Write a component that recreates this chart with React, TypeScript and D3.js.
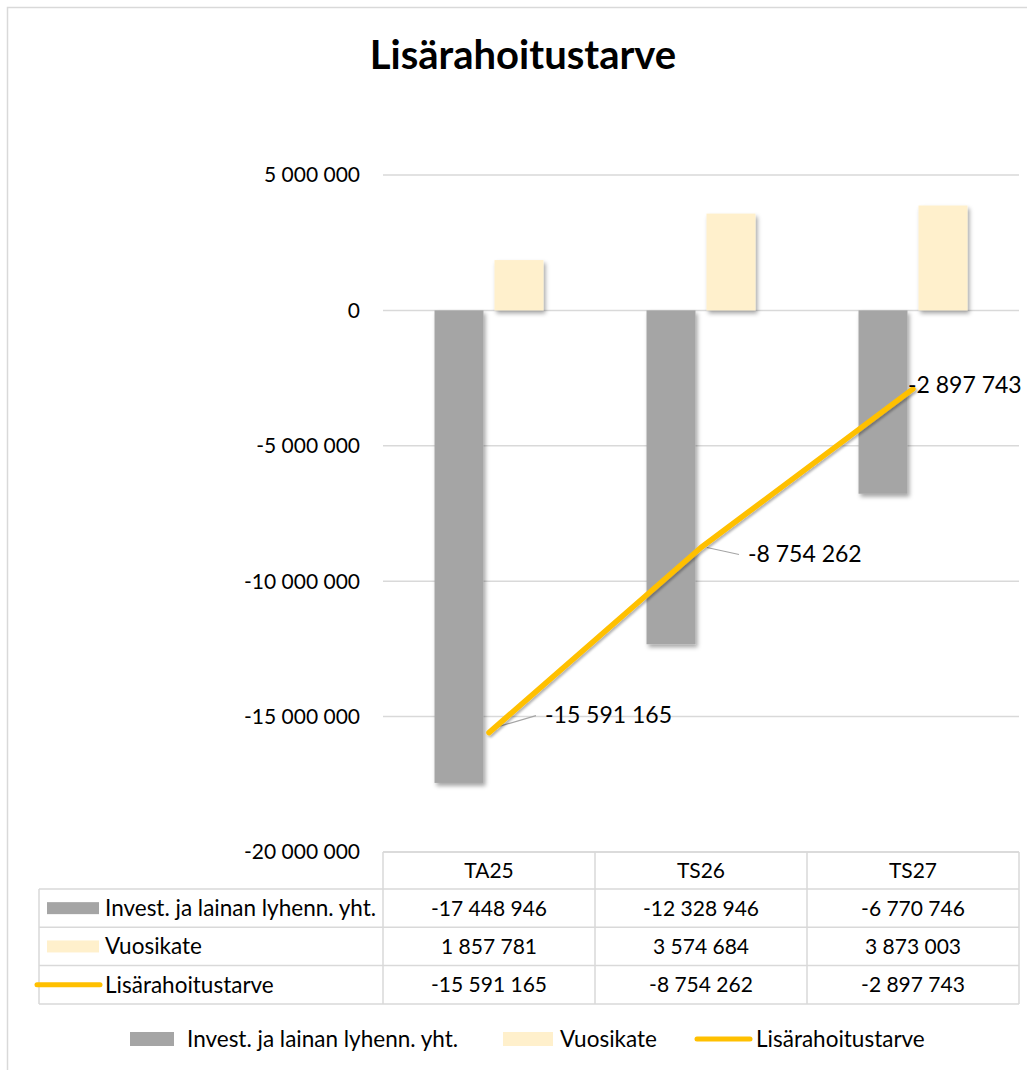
import React, { useEffect, useRef } from 'react';
import * as d3 from 'd3';

const categories = ['TA25', 'TS26', 'TS27'];
const investValues = [-17448946, -12328946, -6770746];
const vuosikateValues = [1857781, 3574684, 3873003];
const lisaValues = [-15591165, -8754262, -2897743];
const seriesNames = ['Invest. ja lainan lyhenn. yht.', 'Vuosikate', 'Lisärahoitustarve'];
const yTicks = [5000000, 0, -5000000, -10000000, -15000000, -20000000];

const W = 1027;
const H = 1070;
const FONT = 'Lato, "Open Sans", sans-serif';
const GRID = '#D9D9D9';
const GRAY = '#A5A5A5';
const CREAM = '#FFF0CC';
const GOLD = '#FFC000';

// where each data label sits relative to its point
const labelOffsets = [[56, -18], [47, 6], [-5, -4]];

const fi = d3.formatLocale({ decimal: ',', thousands: ' ', grouping: [3], currency: ['', ''], minus: '-' });
const fmt = fi.format(',d');

function App() {
  const ref = useRef<SVGSVGElement>(null);

  useEffect(() => {
    const svg = d3.select(ref.current);
    svg.selectAll('*').remove();

    const defs = svg.append('defs');
    const f = defs.append('filter').attr('id', 'shadow').attr('x', '-30%').attr('y', '-10%').attr('width', '160%').attr('height', '130%');
    f.append('feDropShadow').attr('dx', 2).attr('dy', 3).attr('stdDeviation', 2).attr('flood-color', '#000').attr('flood-opacity', 0.35);
    const fl = defs.append('filter').attr('id', 'lineshadow').attr('x', '-10%').attr('y', '-10%').attr('width', '120%').attr('height', '120%');
    fl.append('feDropShadow').attr('dx', 1.5).attr('dy', 2).attr('stdDeviation', 1.2).attr('flood-color', '#000').attr('flood-opacity', 0.3);

    svg.append('rect').attr('x', 7.5).attr('y', 7.5).attr('width', 1100).attr('height', 1100)
      .attr('fill', '#fff').attr('stroke', GRID).attr('stroke-width', 1.5);

    svg.append('text').attr('x', 523).attr('y', 55).attr('text-anchor', 'middle').attr('dy', '0.35em')
      .attr('font-family', FONT).attr('font-weight', 'bold').attr('font-size', 40).attr('fill', '#000')
      .text('Lisärahoitustarve');

    const x0 = d3.scaleBand().domain(categories).range([383, 1019]).paddingInner(0.486).paddingOuter(0.243);
    const x1 = d3.scaleBand().domain(['invest', 'vuosikate']).range([0, x0.bandwidth()]).paddingInner(0.183);
    const y = d3.scaleLinear().domain([-20000000, 5000000]).range([852, 175]);

    // gridlines + labels
    svg.append('g').selectAll('line').data(yTicks).enter().append('line')
      .attr('x1', 383).attr('x2', 1019).attr('y1', d => y(d)).attr('y2', d => y(d))
      .attr('stroke', GRID).attr('stroke-width', 1.5);
    svg.append('g').selectAll('text').data(yTicks).enter().append('text')
      .attr('x', 360).attr('y', d => y(d)).attr('dy', '0.35em').attr('text-anchor', 'end')
      .attr('font-family', FONT).attr('font-size', 21).attr('fill', '#000')
      .text(d => fmt(d));

    const bars = [
      ...categories.map((c, i) => ({ c, key: 'invest', v: investValues[i], color: GRAY })),
      ...categories.map((c, i) => ({ c, key: 'vuosikate', v: vuosikateValues[i], color: CREAM })),
    ];
    svg.append('g').selectAll('rect').data(bars).enter().append('rect')
      .attr('x', d => x0(d.c)! + x1(d.key)!)
      .attr('y', d => y(Math.max(0, d.v)))
      .attr('width', x1.bandwidth())
      .attr('height', d => Math.abs(y(d.v) - y(0)))
      .attr('fill', d => d.color)
      .attr('filter', 'url(#shadow)');

    const pts = categories.map((c, i) => [x0(c)! + x0.bandwidth() / 2, y(lisaValues[i])] as [number, number]);

    // leader lines
    svg.append('g').selectAll('line').data(pts.slice(0, 2)).enter().append('line')
      .attr('x1', d => d[0] + 6).attr('y1', (d, i) => d[1] + (i === 0 ? -5 : 0))
      .attr('x2', (d, i) => d[0] + labelOffsets[i][0] - 9).attr('y2', (d, i) => d[1] + labelOffsets[i][1] + 1)
      .attr('stroke', GRAY).attr('stroke-width', 1.2);

    svg.append('path').datum(pts)
      .attr('d', d3.line())
      .attr('fill', 'none').attr('stroke', GOLD).attr('stroke-width', 5.5)
      .attr('stroke-linecap', 'round').attr('stroke-linejoin', 'round')
      .attr('filter', 'url(#lineshadow)');

    svg.append('g').selectAll('text').data(pts).enter().append('text')
      .attr('x', (d, i) => d[0] + labelOffsets[i][0]).attr('y', (d, i) => d[1] + labelOffsets[i][1])
      .attr('dy', '0.35em').attr('font-family', FONT).attr('font-size', 23).attr('fill', '#000')
      .text((d, i) => fmt(lisaValues[i]));

    // data table
    const tTop = 852;
    const headH = 37;
    const rowH = 38.3;
    const left = 39;
    const right = 1019;
    const colEdges = categories.map(c => x0(c)! - x0.step() * x0.paddingInner() / 2);
    const tg = svg.append('g');
    tg.append('line').attr('x1', 383).attr('x2', right).attr('y1', tTop).attr('y2', tTop).attr('stroke', GRID).attr('stroke-width', 1.5);
    [0, 1, 2, 3].forEach(r => {
      const yy = tTop + headH + r * rowH;
      tg.append('line').attr('x1', left).attr('x2', right).attr('y1', yy).attr('y2', yy).attr('stroke', GRID).attr('stroke-width', 1.5);
    });
    const bottom = tTop + headH + 3 * rowH;
    tg.append('line').attr('x1', left).attr('x2', left).attr('y1', tTop + headH).attr('y2', bottom).attr('stroke', GRID).attr('stroke-width', 1.5);
    [...colEdges, right].forEach(xx => {
      tg.append('line').attr('x1', xx).attr('x2', xx).attr('y1', tTop).attr('y2', bottom).attr('stroke', GRID).attr('stroke-width', 1.5);
    });
    tg.selectAll('text.head').data(categories).enter().append('text')
      .attr('x', c => x0(c)! + x0.bandwidth() / 2).attr('y', tTop + headH / 2).attr('dy', '0.35em')
      .attr('text-anchor', 'middle').attr('font-family', FONT).attr('font-size', 21).text(c => c);
    const rows = [investValues, vuosikateValues, lisaValues];
    rows.forEach((vals, r) => {
      const cy = tTop + headH + r * rowH + rowH / 2;
      tg.selectAll(`text.r${r}`).data(categories).enter().append('text')
        .attr('x', c => x0(c)! + x0.bandwidth() / 2).attr('y', cy).attr('dy', '0.35em')
        .attr('text-anchor', 'middle').attr('font-family', FONT).attr('font-size', 21)
        .text((c, i) => fmt(vals[i]));
      if (r < 2) {
        tg.append('rect').attr('x', 47).attr('y', cy - 6).attr('width', 52).attr('height', 12).attr('fill', r === 0 ? GRAY : CREAM);
      } else {
        tg.append('line').attr('x1', 37).attr('x2', 100).attr('y1', cy).attr('y2', cy)
          .attr('stroke', GOLD).attr('stroke-width', 5).attr('stroke-linecap', 'round');
      }
      tg.append('text').attr('x', 105).attr('y', cy).attr('dy', '0.35em')
        .attr('font-family', FONT).attr('font-size', 22.5).text(seriesNames[r]);
    });

    // legend
    const ly = 1039;
    const lg = svg.append('g');
    const legendX = [130, 503, 695];
    seriesNames.forEach((name, i) => {
      const lx = legendX[i];
      if (i < 2) {
        lg.append('rect').attr('x', lx).attr('y', ly - 7).attr('width', i === 0 ? 44 : 50).attr('height', 14).attr('fill', i === 0 ? GRAY : CREAM);
      } else {
        lg.append('line').attr('x1', lx + 2).attr('x2', lx + 55).attr('y1', ly).attr('y2', ly)
          .attr('stroke', GOLD).attr('stroke-width', 5).attr('stroke-linecap', 'round');
      }
      lg.append('text').attr('x', i === 0 ? lx + 57 : i === 1 ? lx + 57 : lx + 61).attr('y', ly).attr('dy', '0.35em')
        .attr('font-family', FONT).attr('font-size', 22.5).text(name);
    });
  }, []);

  return (
    <svg ref={ref} width={W} height={H} style={{ position: 'absolute', left: 0, top: 0, background: '#fff' }} />
  );
}

export default App;
